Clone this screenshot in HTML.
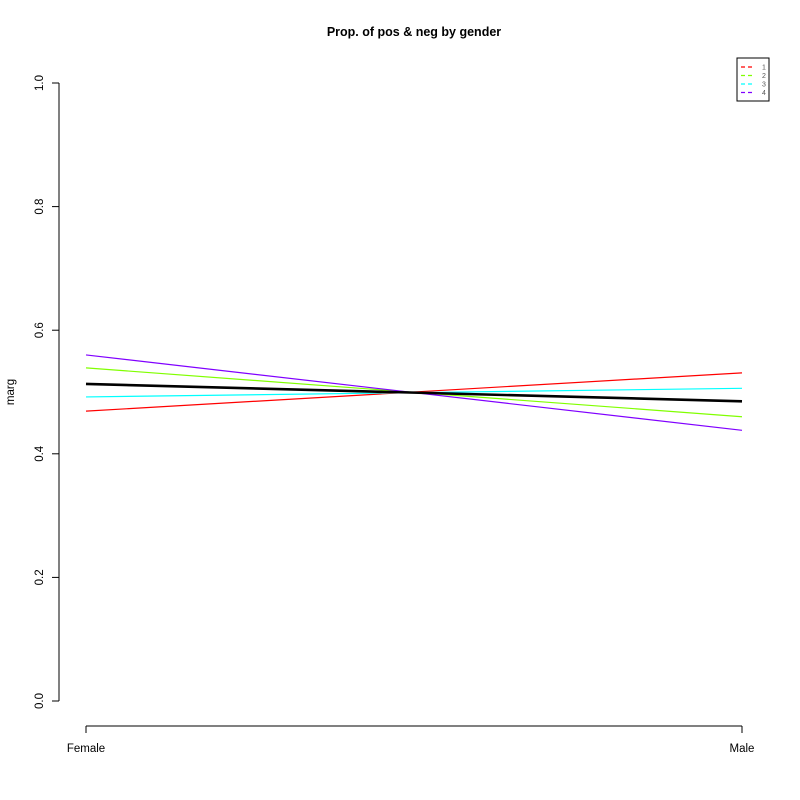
<!DOCTYPE html>
<html><head><meta charset="utf-8"><style>body{margin:0;background:#fff}svg{display:block}text{font-family:"Liberation Sans",Arial,sans-serif}</style></head>
<body>
<svg id="chart" width="800" height="800" xmlns="http://www.w3.org/2000/svg">
<text x="414" y="36" text-anchor="middle" font-size="12.5" font-weight="bold">Prop. of pos &amp; neg by gender</text>
<text transform="translate(14,392) rotate(-90)" text-anchor="middle" font-size="11.5">marg</text>
<g id="axes"></g>
<g id="lines"></g>
<g>
<rect x="737" y="58" width="32" height="43" fill="#fff" stroke="#000"/>
<g id="legend"></g>
</g>
</svg>
<script>
const categories = ["Female","Male"];
const yTicks = [0,0.2,0.4,0.6,0.8,1.0];
const yTickLabels = ["0.0","0.2","0.4","0.6","0.8","1.0"];
const series1 = [0.469,0.531];
const series2 = [0.539,0.460];
const series3 = [0.492,0.506];
const series4 = [0.560,0.438];
const seriesMean = [0.513,0.485];
const seriesNames = ["1","2","3","4"];
const colors = ["#ff0000","#80ff00","#00ffff","#8000ff"];

const NS="http://www.w3.org/2000/svg";
const xs=i=>86+i*(742-86)/(categories.length-1);
const ys=v=>701-v*618;
function mk(tag,attrs,parent){const e=document.createElementNS(NS,tag);for(const k in attrs)e.setAttribute(k,attrs[k]);parent.appendChild(e);return e;}
const axes=document.getElementById('axes');
let e=mk('line',{x1:59,x2:59,y1:ys(0),y2:ys(1),stroke:'#000'},axes);


yTicks.forEach((t,i)=>{
  let l=mk('line',{x1:52,x2:59,y1:ys(t),y2:ys(t),stroke:'#000'},axes);
  
  
  let tx=mk('text',{transform:`translate(43,${ys(t)}) rotate(-90)`,'text-anchor':'middle','font-size':11.5},axes);
  tx.textContent=yTickLabels[i];
  
  
});
e=mk('line',{x1:xs(0),x2:xs(categories.length-1),y1:726,y2:726,stroke:'#000'},axes);


categories.forEach((c,i)=>{
  let l=mk('line',{x1:xs(i),x2:xs(i),y1:726,y2:733,stroke:'#000'},axes);
  
  
  let tx=mk('text',{x:xs(i),y:752,'text-anchor':'middle','font-size':11.5},axes);
  tx.textContent=c;
  
  
});
const lines=document.getElementById('lines');
const all=[series1,series2,series3,series4];
function drawLine(d,col,w,name){
  const p=mk('polyline',{points:d.map((v,i)=>xs(i)+','+ys(v)).join(' '),fill:'none',stroke:col,'stroke-width':w},lines);
  
  
}
all.forEach((d,i)=>drawLine(d,colors[i],1.2,'line-series-'+seriesNames[i]));
drawLine(seriesMean,'#000',2.6,'line-mean');
const lg=document.getElementById('legend');
seriesNames.forEach((n,i)=>{
  const y=67+i*8.5;
  let l=mk('line',{x1:741,x2:755,y1:y,y2:y,stroke:colors[i],'stroke-width':1.3,'stroke-dasharray':'4,3'},lg);
  
  
  let t=mk('text',{x:762,y:y+2.5,'font-size':7,fill:'#555'},lg);
  t.textContent=n;
  
  
});
</script>
</body></html>
